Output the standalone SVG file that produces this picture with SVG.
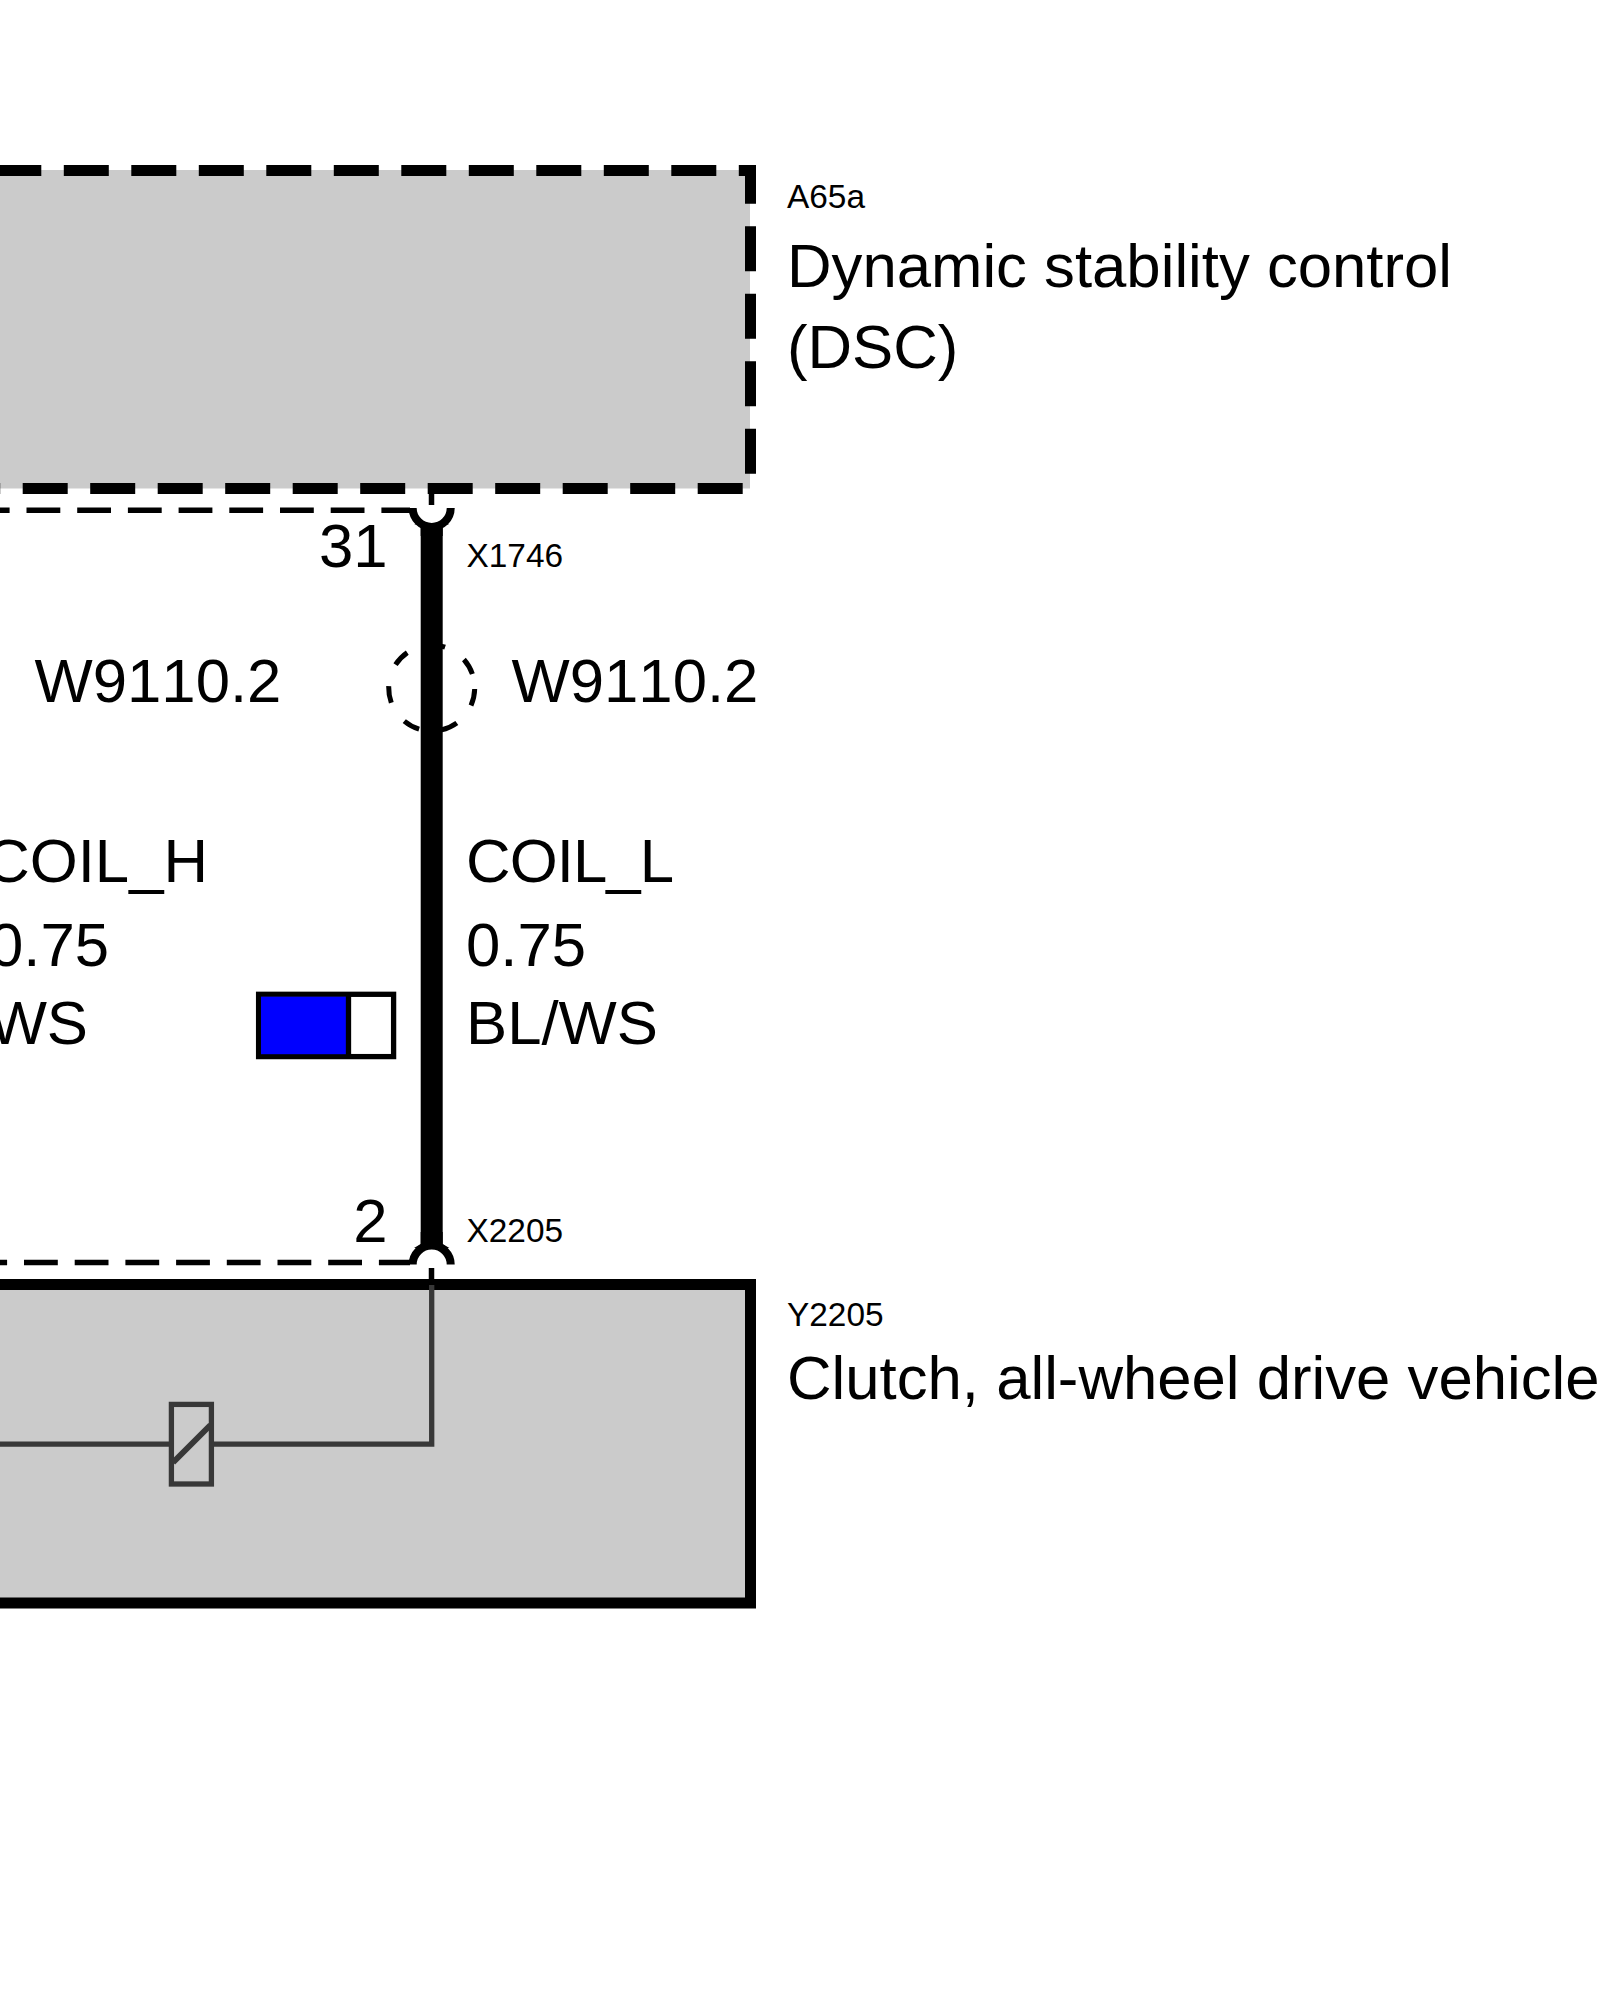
<svg xmlns="http://www.w3.org/2000/svg" width="1600" height="2000" viewBox="0 0 1600 2000">
<style>
text{font-family:"Liberation Sans",Arial,sans-serif;fill:#000;font-kerning:none}
.l{font-size:61.7px}
.s{font-size:33.4px}
.box{fill:#cbcbcb;stroke:#000;stroke-width:11}
.thin{fill:none;stroke:#000;stroke-width:5.6;stroke-dasharray:33.8 16.9}
.fork{fill:none;stroke:#000;stroke-width:8}
.wire{stroke:#000;stroke-width:22;fill:none}
.int{fill:none;stroke:#383838;stroke-width:5.3}
</style>
<rect width="1600" height="2000" fill="#fff"/>
<g id="A65a">
<path class="box" style="stroke:none" d="M-10 170H750V488.5H-10Z"/>
<path class="box" style="fill:none;stroke-dasharray:45 22.5" d="M-3.7 170.5H750.5V488.5H-20"/>
<text class="s" x="787" y="208">A65a</text>
<text class="l" x="787" y="287">Dynamic stability control</text>
<text class="l" x="787" y="368">(DSC)</text>
</g>
<g id="Y2205">
<rect class="box" x="-20" y="1284.5" width="770.5" height="318.5"/>
<path class="int" d="M0 1444.2H431.7M431.7 1285V1446.8"/>
<g id="coil"><rect class="int" style="fill:#cbcbcb" x="171.4" y="1404.4" width="40" height="79.6"/><path class="int" style="stroke-width:6" d="M173 1462.5L210.5 1425"/></g>
<text class="s" x="787" y="1326">Y2205</text>
<text class="l" x="787" y="1399">Clutch, all-wheel drive vehicle</text>
</g>
<g id="connectors">
<path class="thin" d="M-24.2 510.3H410"/>
<path class="thin" d="M-26.7 1262.5H410"/>
<path d="M431.5 488V505M431.5 1268V1285" stroke="#000" stroke-width="5.5" fill="none"/>
<circle cx="431.7" cy="688" r="43" fill="none" stroke="#000" stroke-width="5" stroke-dasharray="16.9 22.7" transform="rotate(1.4 431.7 688)"/>
<path class="wire" d="M431.7 526V1245"/>
<path d="M420.7 536V526L414 524H449.4L442.7 526V536ZM420.7 1232V1244L414 1248H449.4L442.7 1244V1232Z" fill="#000"/>
<path class="fork" d="M412.7 508A19 19 0 0 0 450.7 508"/>
<path class="fork" d="M412.7 1264.5A19 19 0 0 1 450.7 1264.5"/>
</g>
<g id="X1746">
<text class="l" x="387.5" y="567" text-anchor="end">31</text>
<text class="s" x="466.5" y="567">X1746</text>
</g>
<g id="X2205">
<text class="l" x="387.5" y="1242" text-anchor="end">2</text>
<text class="s" x="466.5" y="1242">X2205</text>
</g>
<g id="W9110-2">
<text class="l" x="34.5" y="702">W9110.2</text>
<text class="l" x="511.5" y="702">W9110.2</text>
<text class="l" x="208" y="882" text-anchor="end">COIL_H</text>
<text class="l" x="109" y="966" text-anchor="end">0.75</text>
<text class="l" x="88" y="1044" text-anchor="end">WS</text>
<text class="l" x="466" y="882" textLength="208">COIL_L</text>
<text class="l" x="466" y="966">0.75</text>
<text class="l" x="466" y="1044">BL/WS</text>
</g>
<g id="colour-key">
<rect x="258.6" y="994.3" width="135" height="62.3" fill="#fff" stroke="#000" stroke-width="5.3"/>
<rect x="261" y="996.7" width="85" height="57.5" fill="#0000ff"/>
<path d="M348.5 994V1057" stroke="#000" stroke-width="5.3"/>
</g>
</svg>
